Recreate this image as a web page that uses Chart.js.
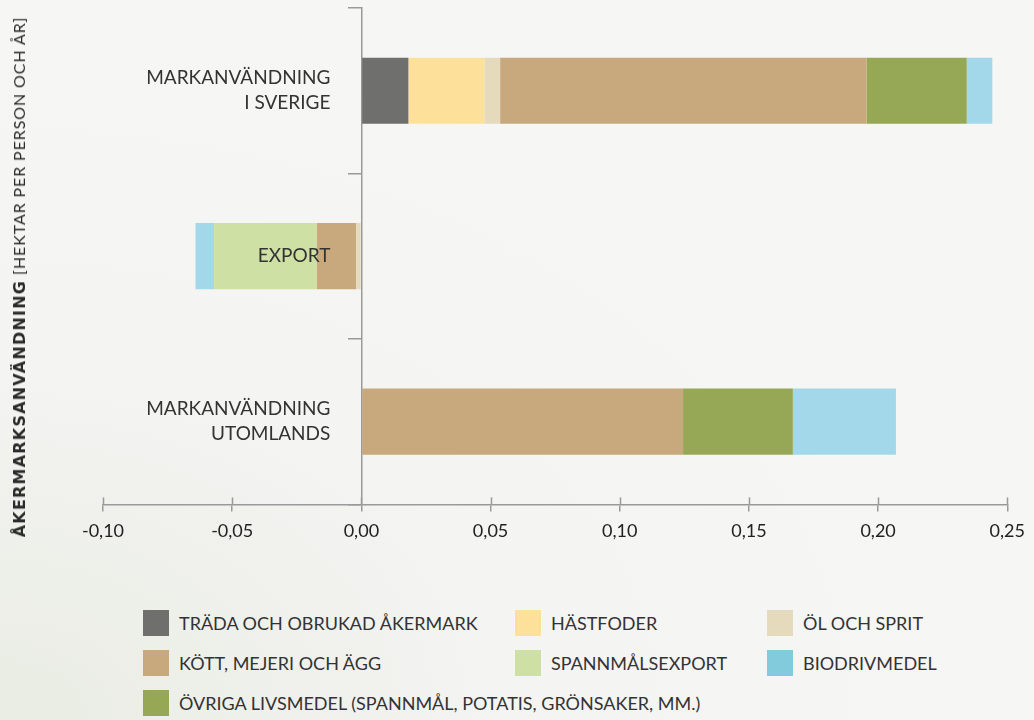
<!DOCTYPE html>
<html>
<head>
<meta charset="utf-8">
<script src="https://cdn.jsdelivr.net/npm/chart.js@4"></script>
<style>
  body { margin: 0; width: 1034px; height: 720px; overflow: hidden; position: relative;
         background: radial-gradient(ellipse at 0% 100%, #e9ece3 0%, #f4f4f2 35%, #f6f6f5 70%);
         font-family: Lato, sans-serif; color: #333; }
  #wrap { position: absolute; left: 0; top: 0; width: 1034px; height: 560px; }
  #ytitle { position: absolute; left: 19px; top: 277px; transform: translate(-50%, -50%) rotate(-90deg);
            white-space: nowrap; font-size: 16px; letter-spacing: 0.9px; color: #2a2a2a; }
  #ytitle b { font-family: "DejaVu Sans", sans-serif; font-weight: bold; letter-spacing: 1.2px; }
  #legend { position: absolute; left: 143px; top: 610px; display: grid;
            grid-template-columns: 372px 252px 260px; row-gap: 14px; }
  .item { display: flex; align-items: center; height: 26px; font-size: 18px; color: #333; white-space: nowrap; }
  .sw { width: 26px; height: 26px; margin-right: 10px; flex: none; }
</style>
</head>
<body>
<div id="wrap"><canvas id="chart"></canvas></div>
<div id="ytitle"><b>ÅKERMARKSANVÄNDNING</b> [HEKTAR PER PERSON OCH ÅR]</div>
<div id="legend"></div>
<script>
// hektar per person och år
const categories = [['MARKANVÄNDNING', 'I SVERIGE'], 'EXPORT', ['MARKANVÄNDNING', 'UTOMLANDS']];
const seriesNames = ['TRÄDA OCH OBRUKAD ÅKERMARK', 'HÄSTFODER', 'ÖL OCH SPRIT', 'KÖTT, MEJERI OCH ÄGG',
  'SPANNMÅLSEXPORT', 'ÖVRIGA LIVSMEDEL (SPANNMÅL, POTATIS, GRÖNSAKER, MM.)', 'BIODRIVMEDEL'];
const trada = [0.0182, 0, 0];
const hastfoder = [0.0294, 0, 0];
const olSprit = [0.0061, -0.0020, 0];
const kott = [0.1418, -0.0152, 0.1245];
const spannmalsexport = [0, -0.0398, 0];
const ovriga = [0.0388, 0, 0.0425];
const biodrivmedel = [0.0099, -0.0072, 0.0399];
const xTicks = [-0.10, -0.05, 0.00, 0.05, 0.10, 0.15, 0.20, 0.25];

const colors = ['#6f6f6e', '#fde19a', '#e6dabd', '#c7a97d', '#cfe0a5', '#96a856', '#a3d8ea'];
const legendColors = ['#6f6f6e', '#fde19a', '#e6dabd', '#c7a97d', '#cfe0a5', '#96a856', '#82cbdc'];
const legendOrder = [0, 1, 2, 3, 4, 6, 5];
const values = [trada, hastfoder, olSprit, kott, spannmalsexport, ovriga, biodrivmedel];

const axisColor = '#9a9a9a';

// ticks that cross the x axis line
const crossTicks = {
  id: 'crossTicks',
  afterDraw(chart) {
    const x = chart.scales.x, ctx = chart.ctx, y0 = chart.chartArea.bottom;
    ctx.save();
    ctx.strokeStyle = axisColor;
    ctx.lineWidth = 1.5;
    x.ticks.forEach(t => {
      const px = Math.round(x.getPixelForValue(t.value)) + 0.5;
      ctx.beginPath();
      ctx.moveTo(px, y0 - 7);
      ctx.lineTo(px, y0);
      ctx.stroke();
    });
    ctx.restore();
  }
};

// category labels, right aligned a bit left of the zero line, drawn over the bars
const catLabels = {
  id: 'catLabels',
  afterDatasetsDraw(chart) {
    const xs = chart.scales.x, ys = chart.scales.y, ctx = chart.ctx;
    const right = xs.getPixelForValue(0) - 31;
    const lh = 25;
    ctx.save();
    ctx.font = '19px Lato';
    ctx.fillStyle = '#333';
    ctx.textAlign = 'right';
    ctx.textBaseline = 'middle';
    categories.forEach((c, i) => {
      const lines = Array.isArray(c) ? c : [c];
      const cy = ys.getPixelForValue(i);
      lines.forEach((ln, k) => {
        ctx.fillText(ln, right, cy + (k - (lines.length - 1) / 2) * lh);
      });
    });
    ctx.restore();
  }
};

new Chart(document.getElementById('chart'), {
  type: 'bar',
  data: {
    labels: categories,
    datasets: seriesNames.map((n, i) => ({
      label: n,
      data: values[i],
      backgroundColor: colors[i],
      borderWidth: 0,
      barPercentage: 0.4,
      categoryPercentage: 1.0,
      stack: 'a'
    }))
  },
  options: {
    indexAxis: 'y',
    responsive: true,
    maintainAspectRatio: false,
    animation: false,
    layout: { padding: { left: 103, right: 25, top: 8, bottom: 9 } },
    plugins: { legend: { display: false }, tooltip: { enabled: false } },
    scales: {
      x: {
        stacked: true,
        min: -0.10,
        max: 0.25,
        afterBuildTicks: s => { s.ticks = xTicks.map(v => ({ value: v })); },
        ticks: {
          callback: v => Number(v).toFixed(2).replace('.', ','),
          font: { family: 'Lato', size: 18 },
          color: '#222',
          padding: 9,
          maxRotation: 0
        },
        grid: { drawOnChartArea: false, drawTicks: true, tickLength: 7, color: axisColor, lineWidth: 1.5 },
        border: { display: true, color: axisColor, width: 1.5 }
      },
      y: {
        stacked: true,
        position: { x: 0 },
        afterFit: s => { s.paddingTop = 0; s.paddingBottom = 0; },
        ticks: { display: false, autoSkip: false },
        grid: { drawOnChartArea: false, drawTicks: true, tickLength: 13, color: axisColor, lineWidth: 1.5, offset: true },
        border: { display: true, color: axisColor, width: 1.5 }
      }
    }
  },
  plugins: [crossTicks, catLabels]
});

const leg = document.getElementById('legend');
legendOrder.forEach(i => {
  const d = document.createElement('div');
  d.className = 'item';
  d.innerHTML = '<span class="sw" style="background:' + legendColors[i] + '"></span>' + seriesNames[i];
  leg.appendChild(d);
});
</script>
</body>
</html>
